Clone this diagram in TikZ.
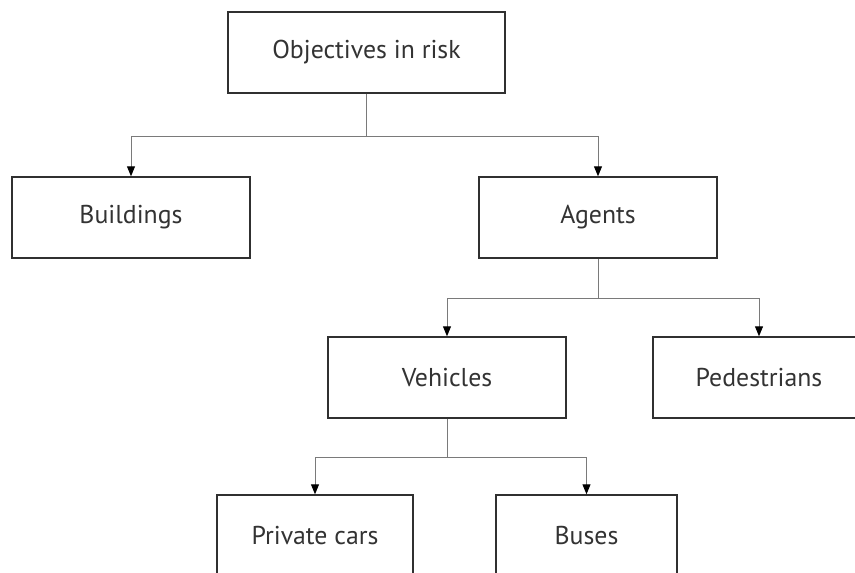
\documentclass[tikz,border=0pt]{standalone}
\usepackage{fontspec}
\setmainfont{PT Sans}
\usetikzlibrary{arrows.meta}
\definecolor{boxline}{HTML}{303030}
\definecolor{connline}{HTML}{7A7A7A}
\definecolor{txt}{HTML}{333333}
\tikzset{
  box/.style={draw=boxline, line width=1.4pt, rectangle, inner sep=0pt,
    minimum height=81pt, text=txt, font=\fontsize{25.8}{30}\selectfont},
  conn/.style={draw=connline, line width=1pt,
    -{Triangle[length=10pt,width=8pt,color=black]}},
  plain/.style={draw=connline, line width=1pt}
}
\begin{document}
\begin{tikzpicture}[x=1pt,y=-1pt]
\useasboundingbox (0,0) rectangle (855,573);
\clip (0,0) rectangle (855,573);
\node[box, minimum width=277pt] (obj) at (366.5,52.5) {Objectives in risk};
\node[box, minimum width=238pt] (bld) at (131,217.5) {Buildings};
\node[box, minimum width=238pt] (agt) at (598,217.5) {Agents};
\node[box, minimum width=238pt] (veh) at (447,377.5) {Vehicles};
\node[box, minimum width=212pt] (ped) at (759,377.5) {Pedestrians};
\node[box, minimum width=196pt] (car) at (315,535.5) {Private cars};
\node[box, minimum width=181pt] (bus) at (586.5,535.5) {Buses};
\coordinate (j1) at (366.5,136);
\coordinate (j2) at (598,298);
\coordinate (j3) at (447,457);
\draw[plain] (obj.south) -- (j1);
\draw[conn] (j1) -| (bld.north);
\draw[conn] (j1) -| (agt.north);
\draw[plain] (agt.south) -- (j2);
\draw[conn] (j2) -| (veh.north);
\draw[conn] (j2) -| (ped.north);
\draw[plain] (veh.south) -- (j3);
\draw[conn] (j3) -| (car.north);
\draw[conn] (j3) -| (bus.north);
\end{tikzpicture}
\end{document}
